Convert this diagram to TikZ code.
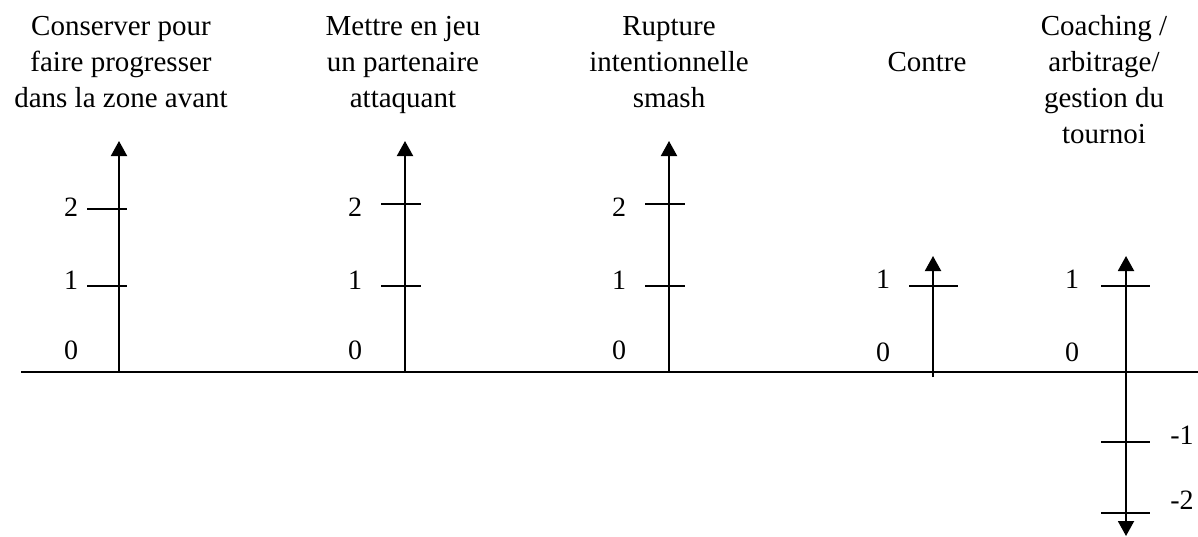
\documentclass[tikz,border=0pt]{standalone}
\usepackage{fontspec}
\setmainfont{Liberation Serif}
\usetikzlibrary{arrows.meta}
\begin{document}
\begin{tikzpicture}[x=0.5pt,y=-0.5pt,
  axis/.style={line width=1pt},
  arr/.style={-{Triangle[width=8pt,length=7.5pt]}},
  darr/.style={{Triangle[width=8pt,length=7.5pt]}-{Triangle[width=8pt,length=7.5pt]}},
  tickline/.style={line width=1pt},
  title/.style={align=center,anchor=base,inner sep=0pt,font=\fontsize{14.5}{18}\selectfont},
  num/.style={inner sep=0pt,anchor=center,font=\fontsize{14}{18}\selectfont}]
\useasboundingbox (0,0) rectangle (1198,536);

% titles
\node[title] (c1) at (121,107) {Conserver pour\\faire progresser\\dans la zone avant};
\node[title] (c2) at (403,107) {Mettre en jeu\\un partenaire\\attaquant};
\node[title] (c3) at (669,107) {Rupture\\intentionnelle\\smash};
\node[title] (c4) at (927,71) {Contre};
\node[title] (c5) at (1104,143) {Coaching /\\arbitrage/\\gestion du\\tournoi};

% baseline
\coordinate (h0) at (21,372);
\coordinate (h1) at (1198,372);
\draw[axis] (h0) -- (h1);

% vertical axes
\coordinate (a1b) at (119,372); \coordinate (a1t) at (119,141);
\coordinate (a2b) at (405,372); \coordinate (a2t) at (405,141);
\coordinate (a3b) at (669,372); \coordinate (a3t) at (669,141);
\coordinate (a4b) at (933,377); \coordinate (a4t) at (933,256);
\coordinate (a5b) at (1126,536); \coordinate (a5t) at (1126,256);
\draw[axis,arr] (a1b) -- (a1t);
\draw[axis,arr] (a2b) -- (a2t);
\draw[axis,arr] (a3b) -- (a3t);
\draw[axis,arr] (a4b) -- (a4t);
\draw[axis,darr] (a5b) -- (a5t);

% ticks
\foreach \n/\x/\y/\l/\r in {a/119/209/32/8, b/119/286/32/8, c/405/204/24/16, d/405/286/24/16,
  e/669/204/24/16, f/669/286/24/16, g/933/286/24/25, h/1126/286/25/24, i/1126/442/25/24, j/1126/513/25/24}{
  \coordinate (t\n l) at (\x-\l,\y);
  \coordinate (t\n r) at (\x+\r,\y);
  \draw[tickline] (t\n l) -- (t\n r);
}

% tick labels
\node[num] (l12) at (71,207) {2};
\node[num] (l11) at (71,280) {1};
\node[num] (l10) at (71,350) {0};
\node[num] (l22) at (355,207) {2};
\node[num] (l21) at (355,280) {1};
\node[num] (l20) at (355,350) {0};
\node[num] (l32) at (619,207) {2};
\node[num] (l31) at (619,280) {1};
\node[num] (l30) at (619,350) {0};
\node[num] (l41) at (883,279) {1};
\node[num] (l40) at (883,352) {0};
\node[num] (l51) at (1072,279) {1};
\node[num] (l50) at (1072,352) {0};
\node[num] (l5m1) at (1182,435) {-1};
\node[num] (l5m2) at (1182,500) {-2};
\end{tikzpicture}
\end{document}
